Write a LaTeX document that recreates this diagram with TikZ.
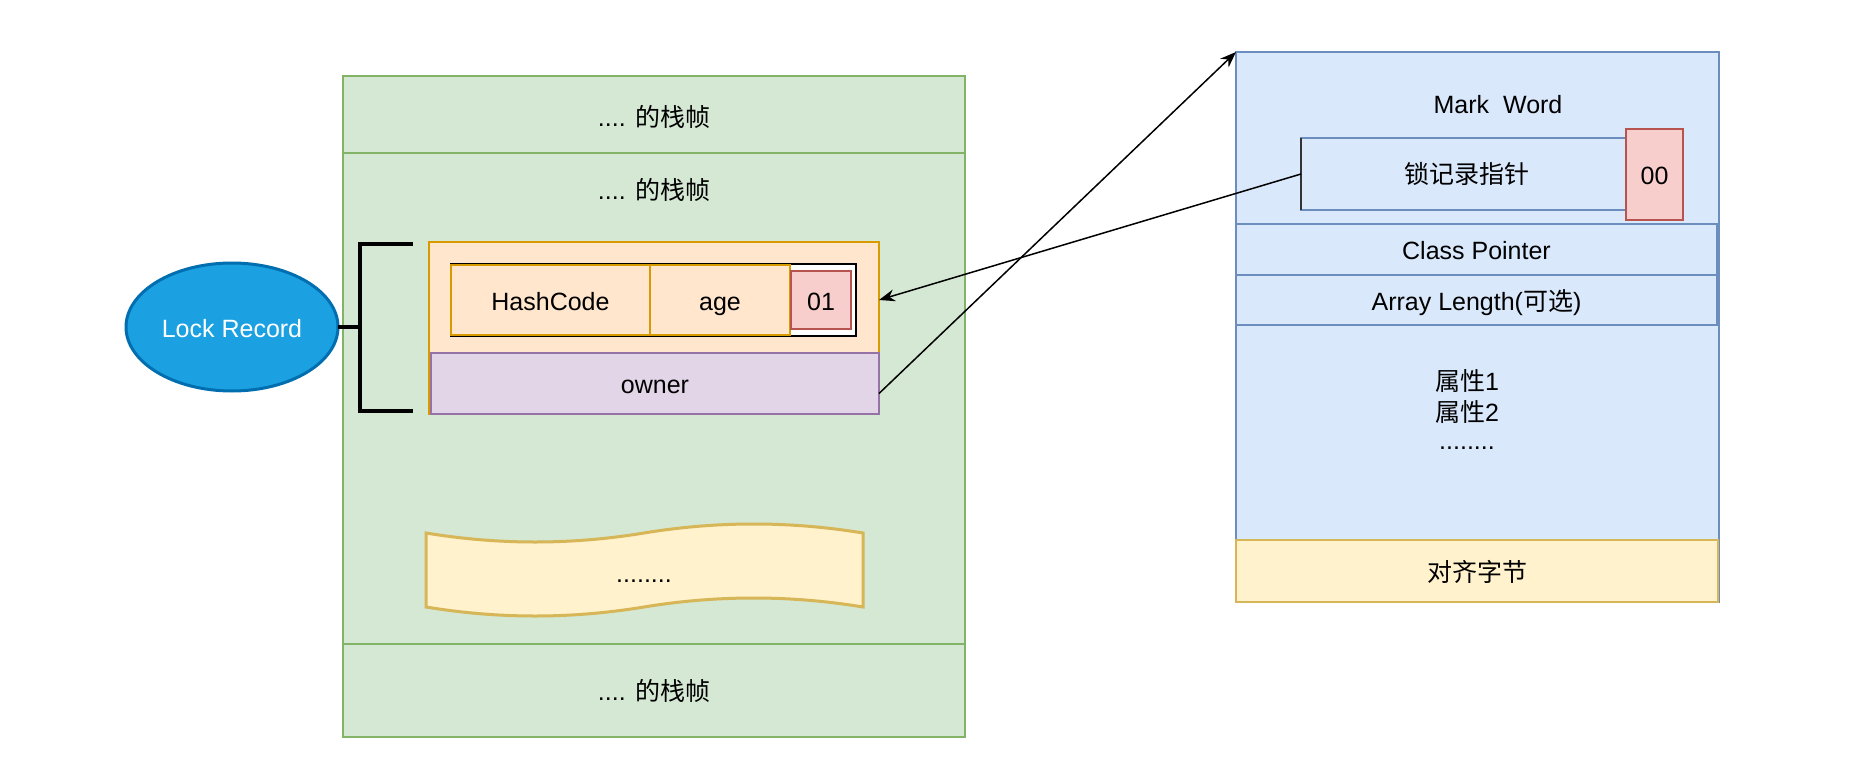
\documentclass[tikz,border=0pt]{standalone}
\usepackage{fontspec}
\setmainfont{Liberation Sans}
\newfontfamily\cjk{Noto Sans CJK SC}
\usetikzlibrary{calc,arrows.meta,shapes.geometric}
\definecolor{gfill}{HTML}{D5E8D4}\definecolor{gline}{HTML}{82B366}
\definecolor{ofill}{HTML}{FFE6CC}\definecolor{oline}{HTML}{D79B00}
\definecolor{pfill}{HTML}{E1D5E7}\definecolor{pline}{HTML}{9673A6}
\definecolor{rfill}{HTML}{F8CECC}\definecolor{rline}{HTML}{B85450}
\definecolor{bfill}{HTML}{DAE8FC}\definecolor{bline}{HTML}{6C8EBF}
\definecolor{yfill}{HTML}{FFF2CC}\definecolor{yline}{HTML}{D6B656}
\definecolor{lrfill}{HTML}{1BA1E2}\definecolor{lrline}{HTML}{006EAF}
\begin{document}
\begin{tikzpicture}[x=1pt,y=-1pt,
  every node/.style={font=\fontsize{25}{30}\selectfont, inner sep=0pt, outer sep=0pt, text height=21pt, text depth=1pt},
  gbox/.style={draw=gline, fill=gfill, line width=2pt},
  obox/.style={draw=oline, fill=ofill, line width=2pt},
  pbox/.style={draw=pline, fill=pfill, line width=2pt},
  rbox/.style={draw=rline, fill=rfill, line width=2pt},
  bbox/.style={draw=bline, fill=bfill, line width=2pt},
  ybox/.style={draw=yline, fill=yfill, line width=2pt},
  conn/.style={line width=1.5pt, -{Stealth[length=16pt,width=12pt]}},
  bracket/.style={line width=3.5pt}]
\useasboundingbox (0,0) rectangle (1870,778);

% ---------- left stack ----------
\node[gbox, minimum width=622pt, minimum height=77pt] (top) at (654,114.5) {};
\node (toplabel) at (654,117) {.... {\cjk 的栈帧}};
\node[gbox, minimum width=622pt, minimum height=491pt] (mid) at (654,398.5) {};
\node[gbox, minimum width=622pt, minimum height=93pt] (bot) at (654,690.5) {.... {\cjk 的栈帧}};
\node (midlabel) at (654,190) {.... {\cjk 的栈帧}};

% lock record block
\node[obox, minimum width=450pt, minimum height=172pt] (orange) at (654,328) {};
\node[pbox, minimum width=448pt, minimum height=61pt] (owner) at (655,383.5) {owner};
\node[draw=black, fill=white, line width=2pt, minimum width=405pt, minimum height=72pt] (inner) at (653.5,300) {};
\node[obox, minimum width=199pt, minimum height=70pt] (hash) at (550.5,300) {HashCode};
\node[obox, minimum width=140pt, minimum height=70pt] (age) at (720,300) {age};
\node[rbox, minimum width=60pt, minimum height=58pt] (flag) at (821,300) {01};

% ellipse + bracket
\node[ellipse, draw=lrline, fill=lrfill, line width=3pt, minimum width=212pt, minimum height=128pt, text=white] (lr) at (232,327) {Lock Record};
\coordinate (bt) at (413,244);
\coordinate (bb) at (413,411);
\coordinate (bm) at (360,327);
\draw[bracket] (bt) -- (bt -| bm) -- (bb -| bm) -- (bb);
\draw[bracket] (lr.east) -- (bm);

% tape
\draw[draw=yline, fill=yfill, line width=3pt]
  (426,533) .. controls (499,545) and (571,545) .. (644,533)
            .. controls (717,521) and (790,521) .. (863,533)
  -- (863,607) .. controls (790,595) and (717,595) .. (644,607)
            .. controls (571,619) and (499,619) .. (426,607) -- cycle;
\node (tape) at (644,572) {........};

% ---------- right object ----------
\node[bbox, minimum width=483pt, minimum height=550pt] (blue) at (1477.5,327) {};
\node (mw) at (1498,104) {Mark\ \ Word};
\node[bbox, minimum width=325pt, minimum height=72pt] (lp) at (1463.5,174) {};
\node (lptext) at (1467,174) {\cjk 锁记录指针};
\draw[line width=2.5pt, color=black!80] (lp.north west) -- (lp.south west);
\node[rbox, minimum width=57pt, minimum height=91pt] (zz) at (1654.5,174.5) {00};
\node[bbox, minimum width=481pt, minimum height=51pt] (cp) at (1476.5,249.5) {Class Pointer};
\node[bbox, minimum width=481pt, minimum height=50pt] (al) at (1476.5,300) {Array Length({\cjk 可选})};
\node[anchor=base] (a1) at (1467,390) {{\cjk 属性}1};
\node[anchor=base] (a2) at (1467,421) {{\cjk 属性}2};
\node[anchor=base] (a3) at (1467,449) {........};
\node[ybox, minimum width=482pt, minimum height=62pt] (pad) at (1477,571) {\cjk 对齐字节};

% ---------- connectors ----------
\draw[conn] ($(owner.east)+(0,10)$) -- (blue.north west);
\draw[conn] (lp.west) -- (orange.east |- inner.center);
\end{tikzpicture}
\end{document}
